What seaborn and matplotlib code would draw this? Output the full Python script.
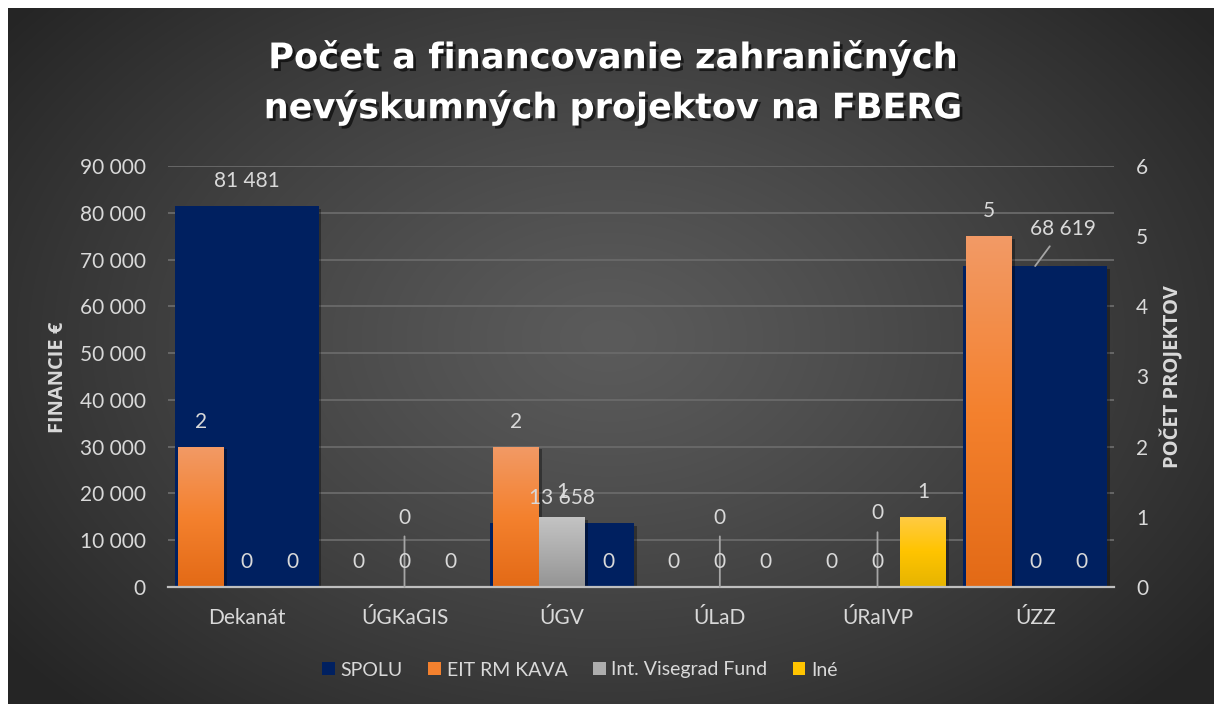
import numpy as np
import pandas as pd
import matplotlib
matplotlib.use("Agg")
import matplotlib.pyplot as plt
import matplotlib.patheffects as pe
from matplotlib.colors import LinearSegmentedColormap
from matplotlib.patches import Patch
import seaborn as sns

# ---------------- data ----------------
categories = ["Dekanát", "ÚGKaGIS", "ÚGV", "ÚLaD", "ÚRaIVP", "ÚZZ"]
spolu = [81481, 0, 13658, 0, 0, 68619]          # financie € (primary axis)
eit_rm_kava = [2, 0, 2, 0, 0, 5]                # počet projektov (secondary)
visegrad = [0, 0, 1, 0, 0, 0]
ine = [0, 0, 0, 0, 1, 0]
series_names = ["EIT RM KAVA", "Int. Visegrad Fund", "Iné"]
left_ticks = [0, 10000, 20000, 30000, 40000, 50000, 60000, 70000, 80000, 90000]
right_ticks = [0, 1, 2, 3, 4, 5, 6]
title_lines = ["Počet a financovanie zahraničných", "nevýskumných projektov na FBERG"]

# ---------------- style ----------------
sns.set_style("white")
FONT = ["Lato", "DejaVu Sans"]
plt.rcParams["font.family"] = FONT

NAVY = "#002060"
TXT = "#D9D9D9"
GRID = "#6A6A6A"
grad_colors = {
    "EIT RM KAVA": ("#F29A66", "#F4812E", "#E36A16"),
    "Int. Visegrad Fund": ("#C4C4C4", "#ADADAD", "#949494"),
    "Iné": ("#FFCB45", "#FFC400", "#E6B400"),
}
mid_colors = {k: v[1] for k, v in grad_colors.items()}

W, H = 1214, 704
fig = plt.figure(figsize=(W / 100, H / 100), dpi=100, facecolor="white")

# background radial gradient (chart area with white margin on top/left)
bgax = fig.add_axes([8 / W, 0, 1 - 8 / W, 1 - 8 / H], zorder=-5)
yy, xx = np.mgrid[0:696, 0:1206]
r = np.sqrt(((xx - 600) / 760.0) ** 2 + ((yy - 330) / 520.0) ** 2)
r = np.clip(r, 0, 1)
c_in = np.array([0x5B, 0x5B, 0x5B]) / 255
c_out = np.array([0x25, 0x25, 0x25]) / 255
img = c_in + (c_out - c_in) * (r[..., None] ** 1.2)
bgax.imshow(img, aspect="auto", interpolation="bilinear")
bgax.axis("off")

# ---------------- main axes ----------------
ax = fig.add_axes([168 / W, (H - 587) / H, 946 / W, 421 / H])
ax.set_zorder(1)
ax.patch.set_visible(False)

df_spolu = pd.DataFrame({"Pracovisko": categories, "SPOLU": spolu})
sns.barplot(data=df_spolu, x="Pracovisko", y="SPOLU", color=NAVY, saturation=1,
            width=0.91, ax=ax, zorder=2, linewidth=0, edgecolor="none")
for p in ax.patches:
    if p.get_height() > 0:
        p.set_path_effects([pe.withSimplePatchShadow(offset=(2, -2), shadow_rgbFace="black", alpha=0.35)])

ax2 = ax.twinx()
ax2.set_zorder(2)
ax2.patch.set_visible(False)
df_cnt = pd.DataFrame({
    "Pracovisko": categories * 3,
    "Zdroj": [s for s in series_names for _ in categories],
    "Počet": eit_rm_kava + visegrad + ine,
})
sns.barplot(data=df_cnt, x="Pracovisko", y="Počet", hue="Zdroj", hue_order=series_names,
            palette=mid_colors, saturation=1, width=0.875, ax=ax2, legend=False, zorder=2,
            linewidth=0, edgecolor="none")

ax.set_ylim(0, 90000)
ax2.set_ylim(0, 6)
ax.set_xlim(-0.5, len(categories) - 0.5)

# gradient fills on secondary bars
for name, cont in zip(series_names, ax2.containers):
    top, mid, bot = grad_colors[name]
    cmap = LinearSegmentedColormap.from_list(name, [bot, mid, top])
    grad = np.linspace(0, 1, 256).reshape(-1, 1)
    for bar in cont:
        h = bar.get_height()
        if h <= 0:
            continue
        bar.set_path_effects([pe.withSimplePatchShadow(offset=(2, -2), shadow_rgbFace="black", alpha=0.35)])
        x0 = bar.get_x()
        w = bar.get_width()
        im = ax2.imshow(grad, extent=[x0, x0 + w, 0, h], origin="lower", aspect="auto",
                        cmap=cmap, zorder=2.1, interpolation="bilinear")
        im.set_clip_path(bar)

ax.set_ylim(0, 90000)
ax2.set_ylim(0, 6)
ax.set_xlim(-0.5, len(categories) - 0.5)

def fmt(v):
    return f"{v:,.0f}".replace(",", " ")

# data labels: SPOLU (primary values, drawn on top layer)
spolu_offsets = {"ÚGKaGIS": (0, 50), "ÚLaD": (0, 50), "ÚRaIVP": (0, 53), "ÚZZ": (20, 27)}
for cat, val, bar in zip(categories, spolu, ax.containers[0]):
    xc = bar.get_x() + bar.get_width() / 2
    dx, dy = spolu_offsets.get(cat, (0, 18))
    kw = dict(xy=(xc, val), xycoords=ax.transData, xytext=(dx, dy), textcoords="offset points",
              ha="center", va="center", color=TXT, fontsize=15, zorder=5)
    if cat in spolu_offsets:
        kw["arrowprops"] = dict(arrowstyle="-", color="#A6A6A6", lw=1.3, shrinkA=4, shrinkB=0)
    ax2.annotate(fmt(val), **kw)

# data labels: counts (secondary)
for name, vals, cont in zip(series_names, [eit_rm_kava, visegrad, ine], ax2.containers):
    for val, bar in zip(vals, cont):
        xc = bar.get_x() + bar.get_width() / 2
        ax2.annotate(str(val), xy=(xc, val), xytext=(0, 18), textcoords="offset points",
                     ha="center", va="center", color=TXT, fontsize=15, zorder=5)

# axes styling
ax.set_yticks(left_ticks)
ax.set_yticklabels([fmt(v) for v in left_ticks])
ax2.set_yticks(right_ticks)
ax2.set_yticklabels([str(v) for v in right_ticks])
ax.set_xlabel("")
ax.set_ylabel("")
ax2.set_xlabel("")
ax2.set_ylabel("")
ax.tick_params(axis="y", length=0, pad=16, labelcolor=TXT, labelsize=15)
ax.tick_params(axis="x", length=0, pad=15, labelcolor=TXT, labelsize=15)
ax2.tick_params(axis="y", length=0, pad=16, labelcolor=TXT, labelsize=15)
ax2.tick_params(axis="x", length=0)
ax.grid(axis="y", color=GRID, lw=1.3)
ax.grid(axis="x", visible=False)
ax.set_axisbelow(True)
ax2.grid(False)
for s in ax.spines.values():
    s.set_visible(False)
for k, s in ax2.spines.items():
    s.set_visible(k == "bottom")
ax2.spines["bottom"].set_color("#BFBFBF")
ax2.spines["bottom"].set_linewidth(1.6)

# axis titles
fig.text(58 / W, 1 - 377 / H, "FINANCIE €", rotation=90, ha="center", va="center",
         color=TXT, fontsize=14.5, fontweight="bold", family=["Open Sans", "DejaVu Sans"])
fig.text(1172 / W, 1 - 377 / H, "POČET PROJEKTOV", rotation=90, ha="center", va="center",
         color=TXT, fontsize=14.5, fontweight="bold", family=["Open Sans", "DejaVu Sans"])

# title (fit to the reference's line width)
shadow = [pe.withSimplePatchShadow(offset=(2, -2), shadow_rgbFace="black", alpha=0.6)]
renderer = fig.canvas.get_renderer()
for line, yc, target_w in zip(title_lines, [57, 107], [690, 699]):
    t = fig.text(613 / W, 1 - yc / H, line, ha="center", va="center", color="white",
                 fontsize=26, fontweight="bold", family=["DejaVu Sans"], path_effects=shadow)
    wpx = t.get_window_extent(renderer).width
    t.set_fontsize(26 * target_w / wpx)

# legend
handles = [Patch(facecolor=NAVY, edgecolor="none", linewidth=0)] + \
          [Patch(facecolor=mid_colors[n], edgecolor="none", linewidth=0) for n in series_names]
labels = ["SPOLU"] + series_names
fig.legend(handles, labels, loc="center", bbox_to_anchor=(580 / W, 1 - 670 / H), ncol=4,
           frameon=False, fontsize=14, labelcolor=TXT, handlelength=0.65, handleheight=0.65,
           handletextpad=0.3, columnspacing=1.3)

fig.savefig("out.png", dpi=100, facecolor="white")
